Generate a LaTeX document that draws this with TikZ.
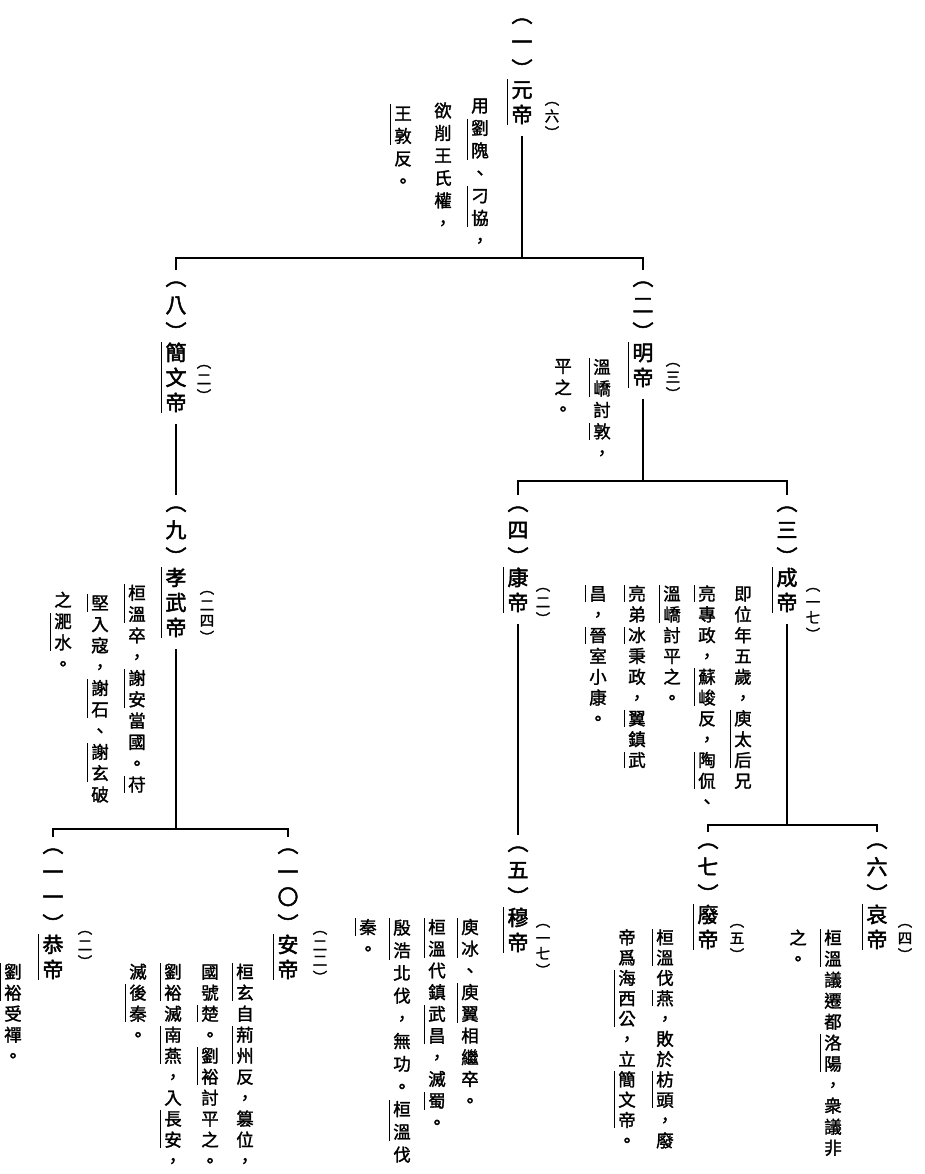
\documentclass[tikz,border=0pt]{standalone}
\usepackage{fontspec}
\newfontfamily\cjk[FakeBold=1.6]{Noto Sans CJK TC}
\newfontfamily\cjkb[FakeBold=2.2]{Noto Sans CJK TC}
\makeatletter
\newdimen\vcp \newdimen\vpp \newbox\vc@box
\vcp=20pt \vpp=16pt
\def\vc@lp{︵}\def\vc@rp{︶}
\def\vcellbox#1#2{\hbox to 1em{\hss\vrule height\dimexpr .88em+(#1-1em)/2\relax depth\dimexpr .12em+(#1-1em)/2\relax width\z@ #2\hss}}
\def\vsingle#1{\def\vc@t{#1}%
  \ifx\vc@t\vc@lp \vcellbox\vpp{\raise.25em\hbox{#1}}\else
  \ifx\vc@t\vc@rp \vcellbox\vpp{\lower.25em\hbox{#1}}\else
  \vcellbox\vcp{#1}\fi\fi}
\def\vmulti#1{\setbox\vc@box\vbox{\@tfor\vc@c:=#1\do{\expandafter\vsingle\expandafter{\vc@c}}}%
  \hbox{\llap{\vrule width .6pt height\dimexpr\ht\vc@box-2pt\relax depth\dimexpr\dp\vc@box-2pt\relax\kern .2em}\box\vc@box}}
\def\vst@end{\vst@endmarker}
\def\vstack#1{\vbox{\offinterlineskip\vst@#1\vst@end}}
\def\vst@{\futurelet\vst@next\vst@a}
\def\vst@a{\ifx\vst@next\vst@end\let\vst@do\@gobble\else\ifx\vst@next\bgroup\let\vst@do\vst@g\else\let\vst@do\vst@s\fi\fi\vst@do}
\def\vst@g#1{\vmulti{#1}\vst@}
\def\vst@s#1{\vsingle{#1}\vst@}
\makeatother
\tikzset{
  vp/.code={\vcp=#1pt},
  pp/.code={\vpp=#1pt},
  emp/.style={anchor=north, inner sep=0pt, font=\cjkb\fontsize{21}{25}\selectfont, vp=25, pp=19},
  sm/.style={anchor=north, inner sep=0pt, font=\cjk\fontsize{14.5}{16}\selectfont, vp=15.5, pp=11},
  nt/.style={anchor=north, inner sep=0pt, font=\cjk\fontsize{17.5}{21}\selectfont, vp=21.5, pp=16},
  tree/.style={line width=1.6pt, black}
}
\begin{document}
\begin{tikzpicture}[x=1pt,y=-1pt]
\useasboundingbox[fill=white] (0,0) rectangle (924,1174);
% emperors
\node[emp] (e1) at (522,10) {\vstack{︵一︶{元帝}}};
\node[emp] (e2) at (643,273) {\vstack{︵二︶{明帝}}};
\node[emp] (e8) at (176,273) {\vstack{︵八︶{簡文帝}}};
\node[emp] (e3) at (787,498) {\vstack{︵三︶{成帝}}};
\node[emp] (e4) at (518,498) {\vstack{︵四︶{康帝}}};
\node[emp] (e9) at (176,498) {\vstack{︵九︶{孝武帝}}};
\node[emp] (e5) at (518,838) {\vstack{︵五︶{穆帝}}};
\node[emp] (e6) at (877,835) {\vstack{︵六︶{哀帝}}};
\node[emp] (e7) at (708,835) {\vstack{︵七︶{廢帝}}};
\node[emp] (e10) at (288,840) {\vstack{︵一〇︶{安帝}}};
\node[emp] (e11) at (53,840) {\vstack{︵一一︶{恭帝}}};
% reign years
\node[sm] (s1) at (552,97) {\vstack{︵六︶}};
\node[sm] (s8) at (204,360) {\vstack{︵二︶}};
\node[sm] (s2) at (673,358) {\vstack{︵三︶}};
\node[sm] (s4) at (543,583) {\vstack{︵二︶}};
\node[sm] (s3) at (813,583) {\vstack{︵一七︶}};
\node[sm] (s9) at (207,586) {\vstack{︵二四︶}};
\node[sm] (s5) at (543,919) {\vstack{︵一七︶}};
\node[sm] (s6) at (905,919) {\vstack{︵四︶}};
\node[sm] (s7) at (737,919) {\vstack{︵五︶}};
\node[sm] (s10) at (320,926) {\vstack{︵二二︶}};
\node[sm] (s11) at (85,926) {\vstack{︵二︶}};
% notes
\node[nt, vp=22.5] (n1a) at (480,94) {\vstack{用{劉隗}、{刁協}，}};
\node[nt, vp=22.5] (n1b) at (443,99) {\vstack{欲削王氏權，}};
\node[nt, vp=22.5] (n1c) at (403,102) {\vstack{{王敦}反。}};
\node[nt] (n2a) at (602,356) {\vstack{{溫嶠}討{敦}，}};
\node[nt] (n2b) at (563,355) {\vstack{平之。}};
\node[nt, vp=20.8] (n3a) at (743,583) {\vstack{即位年五歲，{庾太后}兄}};
\node[nt, vp=20.8] (n3b) at (707,583) {\vstack{{亮}專政，{蘇峻}反，{陶侃}、}};
\node[nt, vp=20.8] (n3c) at (672,583) {\vstack{{溫嶠}討平之。}};
\node[nt, vp=20.8] (n3d) at (637,583) {\vstack{{亮}弟{冰}秉政，{翼}鎮{武}}};
\node[nt, vp=20.8] (n3e) at (598,583) {\vstack{{昌}，{晉}室小康。}};
\node[nt, vp=21.3] (n9a) at (137,582) {\vstack{{桓溫}卒，{謝安}當國。{苻}}};
\node[nt, vp=21.3] (n9b) at (100,592) {\vstack{{堅}入寇，{謝石}、{謝玄}破}};
\node[nt, vp=21.3] (n9c) at (63,589) {\vstack{之{淝水}。}};
\node[nt, vp=21.7] (n5a) at (470,916) {\vstack{{庾冰}、{庾翼}相繼卒。}};
\node[nt, vp=21.7] (n5b) at (437,916) {\vstack{{桓溫}代鎮{武昌}，滅{蜀}。}};
\node[nt, vp=22.7] (n5c) at (402,916) {\vstack{{殷浩}北伐，無功。{桓溫}伐}};
\node[nt, vp=21.7] (n5d) at (368,916) {\vstack{{秦}。}};
\node[nt, vp=21] (n6a) at (833,927) {\vstack{{桓溫}議遷都{洛陽}，衆議非}};
\node[nt, vp=21] (n6b) at (798,927) {\vstack{之。}};
\node[nt, vp=20.3] (n7a) at (665,927) {\vstack{{桓溫}伐{燕}，敗於{枋頭}，廢}};
\node[nt, vp=20.3] (n7b) at (627,927) {\vstack{帝爲{海西公}，立{簡文帝}。}};
\node[nt, vp=21] (n10a) at (245,961) {\vstack{{桓玄}自{荊州}反，篡位，}};
\node[nt, vp=21] (n10b) at (210,961) {\vstack{國號{楚}。{劉裕}討平之。}};
\node[nt, vp=21] (n10c) at (173,961) {\vstack{{劉裕}滅{南燕}，入{長安}，}};
\node[nt, vp=21] (n10d) at (138,961) {\vstack{滅{後秦}。}};
\node[nt, vp=21] (n11a) at (13,961) {\vstack{{劉裕}受禪。}};
% junctions
\coordinate (j1) at (522,258);
\coordinate (j2) at (643,481);
\coordinate (j3) at (787,825);
\coordinate (j4) at (176,829);
% connectors
\draw[tree, shorten <=9pt] (e1.south) -- (j1);
\draw[tree, shorten <=3pt, shorten >=3pt] (e8.north) |- (j1) -| (e2.north);
\draw[tree, shorten <=9pt] (e2.south) -- (j2);
\draw[tree, shorten <=3pt, shorten >=3pt] (e4.north) |- (j2) -| (e3.north);
\draw[tree, shorten <=9pt, shorten >=3pt] (e8.south) -- (e9.north);
\draw[tree, shorten <=9pt, shorten >=3pt] (e4.south) -- (e5.north);
\draw[tree, shorten <=9pt] (e3.south) -- (j3);
\draw[tree, shorten <=3pt, shorten >=3pt] (e7.north) |- (j3) -| (e6.north);
\draw[tree, shorten <=9pt] (e9.south) -- (j4);
\draw[tree, shorten <=3pt, shorten >=3pt] (e11.north) |- (j4) -| (e10.north);
\end{tikzpicture}
\end{document}
